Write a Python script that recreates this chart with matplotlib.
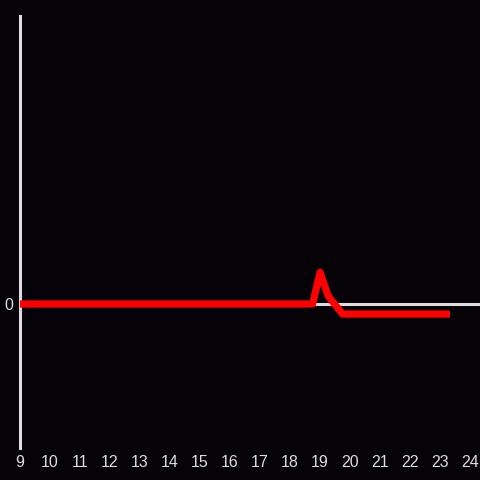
import numpy as np
import matplotlib
matplotlib.use("Agg")
import matplotlib.pyplot as plt

# hour of day vs value
hours = [9, 18.75, 19.0, 19.27, 19.75, 23.33]
values = [0, 0, 0.22, 0.055, -0.07, -0.07]
xticks = list(range(9, 25))

plt.rcParams['font.family'] = ['Liberation Sans', 'DejaVu Sans']
bg = '#050307'
fg = '#dddddd'

fig = plt.figure(figsize=(4.8, 4.8), dpi=100, facecolor=bg)
ax = fig.add_axes([20/480, 32/480, 460/480, 432/480], facecolor=bg)

ax.axhline(0, color=fg, linewidth=2.2, zorder=1)
ax.plot(hours, values, color='#ff0000', linewidth=5.2, solid_joinstyle='round',
        solid_capstyle='butt', zorder=3)

ax.set_xlim(9, 24.33)
ax.set_ylim(-1, 2)
ax.set_xticks(xticks)
ax.set_yticks([0])
ax.tick_params(length=0, colors=fg, labelsize=11.5, pad=5)
for s in ['top', 'right', 'bottom']:
    ax.spines[s].set_visible(False)
ax.spines['left'].set_color(fg)
ax.spines['left'].set_linewidth(2.2)

fig.savefig('out.png', dpi=100, facecolor=bg)
